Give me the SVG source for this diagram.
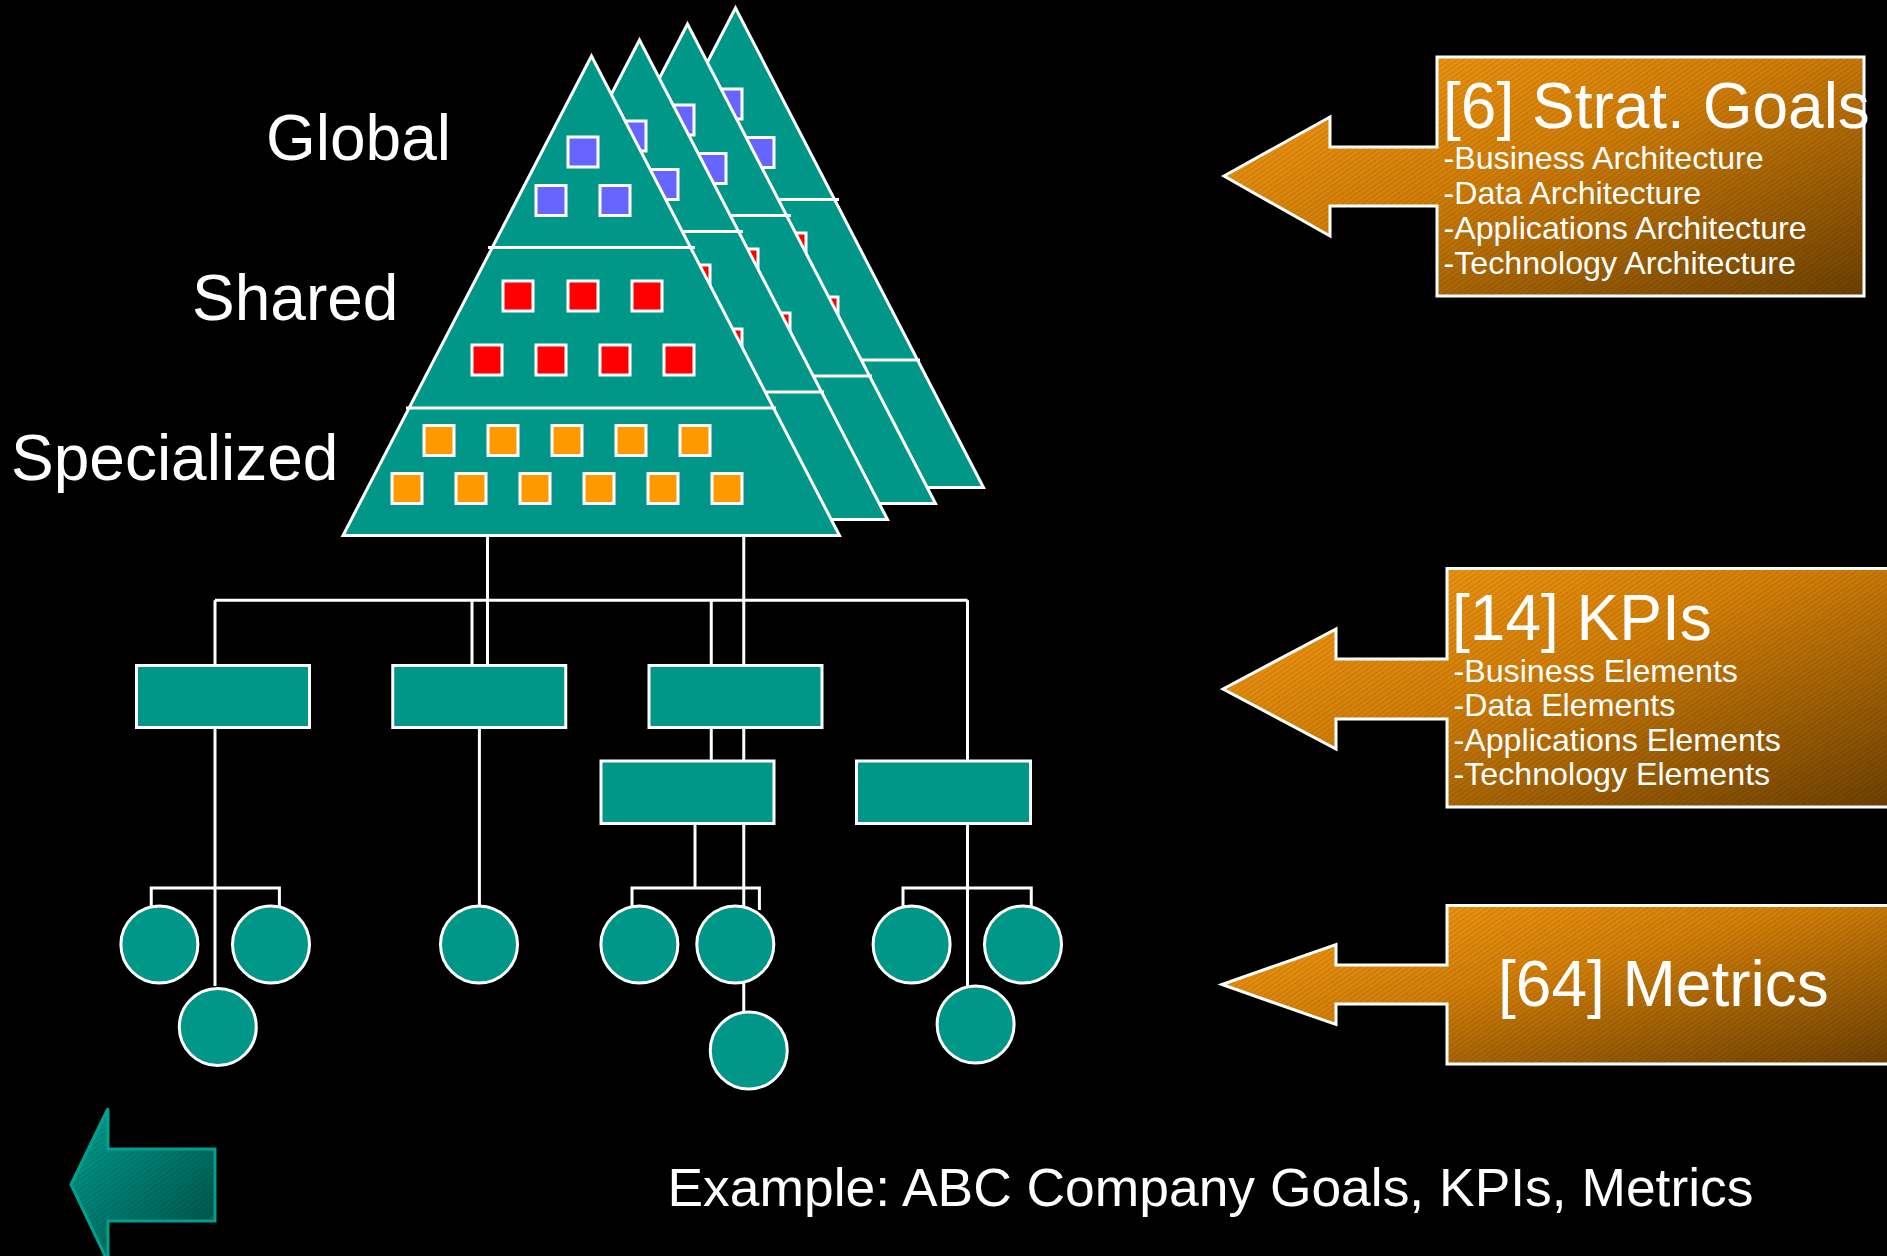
<svg xmlns="http://www.w3.org/2000/svg" xmlns:xlink="http://www.w3.org/1999/xlink" width="1887" height="1256" viewBox="0 0 1887 1256">
<style>
.tri{fill:#009688;stroke:#ffffff;stroke-width:3;stroke-linejoin:miter}
.div{stroke:#ffffff;stroke-width:3;fill:none}
.sq{stroke:#ffffff;stroke-width:3}
.b{fill:#6666ff}
.r{fill:#ff0000}
.o{fill:#ff9900}
.box{fill:#009688;stroke:#ffffff;stroke-width:3}
.cir{fill:#009688;stroke:#ffffff;stroke-width:3}
.ln{stroke:#ffffff;stroke-width:3;fill:none}
.lbl{font-family:"Liberation Sans",Arial,sans-serif;fill:#ffffff}
.big{font-size:64px}
.title{font-size:64px}
.sub{font-size:32.2px}
.call{stroke:#ffffff;stroke-width:3;stroke-linejoin:miter}
</style>
<defs>
<linearGradient id="og" x1="0" y1="0" x2="1" y2="1">
<stop offset="0" stop-color="#f89c14"/>
<stop offset="0.45" stop-color="#d07d08"/>
<stop offset="1" stop-color="#6a3f02"/>
</linearGradient>
<linearGradient id="tg" x1="0" y1="0" x2="1" y2="1">
<stop offset="0" stop-color="#00a090"/>
<stop offset="1" stop-color="#004a42"/>
</linearGradient>
<pattern id="hatch" patternUnits="userSpaceOnUse" width="4" height="4" patternTransform="rotate(-35)">
<line x1="0" y1="0" x2="4" y2="0" stroke="#000000" stroke-opacity="0.18" stroke-width="1.2"/>
</pattern>
<g id="pyr">
<polygon class="tri" points="591.5,56 343,535.5 839.5,535.5"/>
<line class="div" x1="488" y1="247.5" x2="695" y2="247.5"/>
<line class="div" x1="406" y1="408" x2="776" y2="408"/>
<rect class="sq b" x="568" y="137" width="30" height="30"/>
<rect class="sq b" x="536" y="185.5" width="30" height="30"/>
<rect class="sq b" x="600" y="185.5" width="30" height="30"/>
<rect class="sq r" x="503" y="281" width="30" height="30"/>
<rect class="sq r" x="568" y="281" width="30" height="30"/>
<rect class="sq r" x="632" y="281" width="30" height="30"/>
<rect class="sq r" x="472" y="345" width="30" height="30"/>
<rect class="sq r" x="536" y="345" width="30" height="30"/>
<rect class="sq r" x="600" y="345" width="30" height="30"/>
<rect class="sq r" x="664" y="345" width="30" height="30"/>
<rect class="sq o" x="424" y="425.5" width="30" height="30"/>
<rect class="sq o" x="488" y="425.5" width="30" height="30"/>
<rect class="sq o" x="552" y="425.5" width="30" height="30"/>
<rect class="sq o" x="616" y="425.5" width="30" height="30"/>
<rect class="sq o" x="680" y="425.5" width="30" height="30"/>
<rect class="sq o" x="392" y="473.5" width="30" height="30"/>
<rect class="sq o" x="456" y="473.5" width="30" height="30"/>
<rect class="sq o" x="520" y="473.5" width="30" height="30"/>
<rect class="sq o" x="584" y="473.5" width="30" height="30"/>
<rect class="sq o" x="648" y="473.5" width="30" height="30"/>
<rect class="sq o" x="712" y="473.5" width="30" height="30"/>
</g>
</defs>
<rect x="0" y="0" width="1887" height="1256" fill="#000000"/>

<g id="connectors">
<line class="ln" x1="487.5" y1="535" x2="487.5" y2="665"/>
<line class="ln" x1="743.75" y1="535" x2="743.75" y2="1012"/>
<line class="ln" x1="215" y1="600.3" x2="967.5" y2="600.3"/>
<line class="ln" x1="472" y1="600.3" x2="472" y2="665"/>
<line class="ln" x1="711.25" y1="600.3" x2="711.25" y2="761"/>
<line class="ln" x1="215" y1="600.3" x2="215" y2="986"/>
<line class="ln" x1="967.5" y1="600.3" x2="967.5" y2="986"/>
<line class="ln" x1="479.4" y1="729" x2="479.4" y2="906"/>
<polyline class="ln" points="151.25,906 151.25,888 279.4,888 279.4,906"/>
<line class="ln" x1="695" y1="825" x2="695" y2="888"/>
<polyline class="ln" points="632,906 632,888 759.4,888 759.4,910"/>
<polyline class="ln" points="903,906 903,888 1031.25,888 1031.25,906"/>
</g>

<g id="pyramid-4"><use xlink:href="#pyr" href="#pyr" transform="translate(144,-48)"/></g>
<g id="pyramid-3"><use xlink:href="#pyr" href="#pyr" transform="translate(96,-32)"/></g>
<g id="pyramid-2"><use xlink:href="#pyr" href="#pyr" transform="translate(48,-16)"/></g>
<g id="pyramid-1"><use xlink:href="#pyr" href="#pyr"/></g>

<g id="label-global"><text class="lbl big" x="266" y="160" font-size="64.5">Global</text></g>
<g id="label-shared"><text class="lbl big" x="192" y="320">Shared</text></g>
<g id="label-specialized"><text class="lbl big" x="11" y="480">Specialized</text></g>

<g id="box-1"><rect class="box" x="136.5" y="665.5" width="173" height="62"/></g>
<g id="box-2"><rect class="box" x="392.75" y="665.5" width="173" height="62"/></g>
<g id="box-3"><rect class="box" x="649" y="665.5" width="173" height="62"/></g>
<g id="box-3b"><rect class="box" x="601" y="761" width="173" height="62.5"/></g>
<g id="box-4"><rect class="box" x="856.5" y="761" width="174" height="62.5"/></g>

<g id="circle-a"><circle class="cir" cx="159.4" cy="944.5" r="38.5"/></g>
<g id="circle-b"><circle class="cir" cx="271" cy="944.5" r="38.5"/></g>
<g id="circle-c"><circle class="cir" cx="217.8" cy="1027" r="38.5"/></g>
<g id="circle-d"><circle class="cir" cx="479" cy="944.5" r="38.5"/></g>
<g id="circle-e"><circle class="cir" cx="639.4" cy="944.5" r="38.5"/></g>
<g id="circle-f"><circle class="cir" cx="735.3" cy="944.5" r="38.5"/></g>
<g id="circle-g"><circle class="cir" cx="748.75" cy="1050.5" r="38.5"/></g>
<g id="circle-h"><circle class="cir" cx="911.6" cy="944.5" r="38.5"/></g>
<g id="circle-i"><circle class="cir" cx="1023" cy="944.5" r="38.5"/></g>
<g id="circle-j"><circle class="cir" cx="975.6" cy="1024.5" r="38.5"/></g>

<g id="callout-goals">
<polygon fill="url(#og)" points="1224,176 1330,117 1330,147 1437,147 1437,57 1864,57 1864,296 1437,296 1437,206 1330,206 1330,236"/>
<polygon class="call" fill="url(#hatch)" points="1224,176 1330,117 1330,147 1437,147 1437,57 1864,57 1864,296 1437,296 1437,206 1330,206 1330,236"/>
<text class="lbl title" x="1443" y="128" font-size="63.7">[6] Strat. Goals</text>
<text class="lbl sub" x="1443.5" y="168.5">-Business Architecture</text>
<text class="lbl sub" x="1443.5" y="203.5">-Data Architecture</text>
<text class="lbl sub" x="1443.5" y="238.5">-Applications Architecture</text>
<text class="lbl sub" x="1443.5" y="273.5">-Technology Architecture</text>
</g>

<g id="callout-kpis">
<polygon fill="url(#og)" points="1223,689 1336,629 1336,659 1447,659 1447,568.5 1900,568.5 1900,807 1447,807 1447,719 1336,719 1336,749"/>
<polygon class="call" fill="url(#hatch)" points="1223,689 1336,629 1336,659 1447,659 1447,568.5 1900,568.5 1900,807 1447,807 1447,719 1336,719 1336,749"/>
<text class="lbl title" x="1452" y="640">[14] KPIs</text>
<text class="lbl sub" x="1453.5" y="681.5">-Business Elements</text>
<text class="lbl sub" x="1453.5" y="716">-Data Elements</text>
<text class="lbl sub" x="1453.5" y="750.5">-Applications Elements</text>
<text class="lbl sub" x="1453.5" y="785">-Technology Elements</text>
</g>

<g id="callout-metrics">
<polygon fill="url(#og)" points="1222,984.5 1336,944.5 1336,965 1447,965 1447,905.5 1900,905.5 1900,1064 1447,1064 1447,1004 1336,1004 1336,1024.5"/>
<polygon class="call" fill="url(#hatch)" points="1222,984.5 1336,944.5 1336,965 1447,965 1447,905.5 1900,905.5 1900,1064 1447,1064 1447,1004 1336,1004 1336,1024.5"/>
<text class="lbl title" x="1498" y="1005.5">[64] Metrics</text>
</g>

<g id="back-arrow">
<polygon fill="url(#tg)" points="71,1184.5 108,1108.5 108,1149 215,1149 215,1221 108,1221 108,1262"/>
<polygon fill="url(#hatch)" stroke="#00a08e" stroke-width="3" points="71,1184.5 108,1108.5 108,1149 215,1149 215,1221 108,1221 108,1262"/>
</g>

<g id="caption"><text class="lbl" font-size="53.4" x="667.5" y="1206">Example: ABC Company Goals, KPIs, Metrics</text></g>
</svg>
